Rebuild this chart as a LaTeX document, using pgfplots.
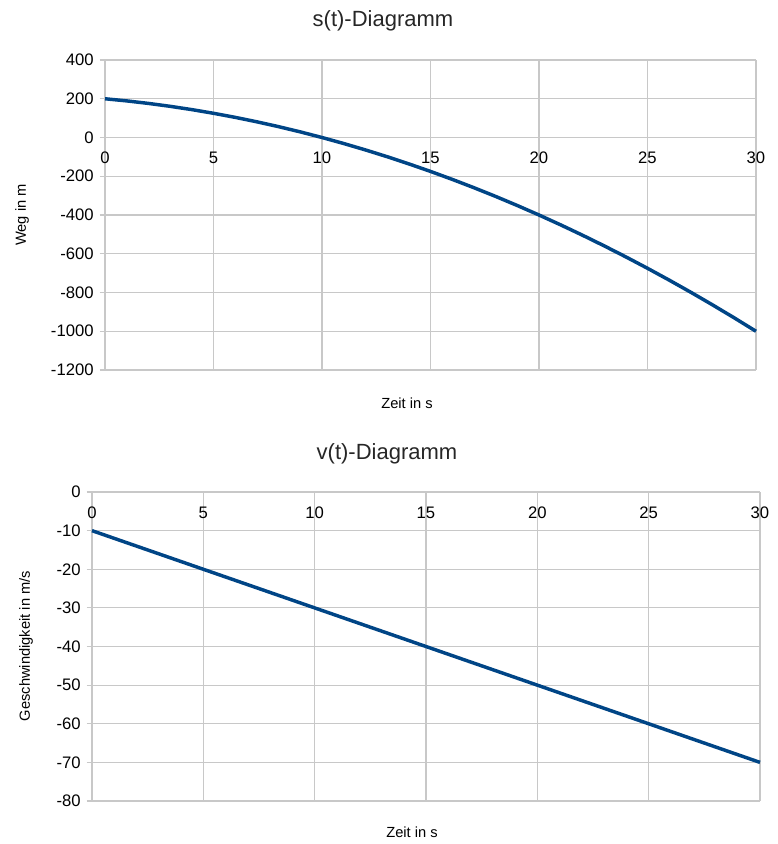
\documentclass[border=0pt]{standalone}
\usepackage{fontspec}
\setmainfont{Liberation Sans}
\usepackage{pgfplots}
\pgfplotsset{compat=1.18}
\definecolor{serie}{HTML}{004586}
\definecolor{gridc}{HTML}{C8C8C8}
\pgfplotsset{
  common/.style={
    scale only axis,
    axis lines=middle,
    axis line style={-, gridc, line width=1pt},
    grid=major,
    major grid style={gridc, line width=0.8pt},
    hide obscured x ticks=false,
    hide obscured y ticks=false,
    xmin=0, xmax=30,
    xtick={0,5,...,30},
    xtick style={draw=none},
    ytick style={gridc, line width=0.8pt},
    major tick length=4pt,
    tick align=outside,
    /pgf/number format/assume math mode=true,
    /pgf/number format/1000 sep={},
    tick label style={font=\fontsize{12.5}{14}\selectfont, text=black},
    xticklabel style={anchor=north, yshift=-3.5pt},
    yticklabel style={anchor=east, xshift=-1pt},
    clip=false,
  }
}
\begin{document}
\begin{tikzpicture}
\path[use as bounding box] (0,0) rectangle (583.5pt,-633pt);
% top chart
\begin{axis}[common,
  at={(78.75pt,-277.5pt)}, anchor=south west,
  width=488.25pt, height=232.5pt,
  ymin=-1200, ymax=400, ytick={-1200,-1000,...,400},
]
\addplot[serie, line width=2.6pt] coordinates {
(0,200) (1,189) (2,176) (3,161) (4,144) (5,125) (6,104) (7,81) (8,56) (9,29)
(10,0) (11,-31) (12,-64) (13,-99) (14,-136) (15,-175) (16,-216) (17,-259)
(18,-304) (19,-351) (20,-400) (21,-451) (22,-504) (23,-559) (24,-616)
(25,-675) (26,-736) (27,-799) (28,-864) (29,-931) (30,-1000)};
\end{axis}
% bottom chart
\begin{axis}[common,
  at={(69pt,-600.75pt)}, anchor=south west,
  width=501pt, height=231.75pt,
  ymin=-80, ymax=0, ytick={-80,-70,...,0},
]
\addplot[serie, line width=2.6pt] coordinates {
(0,-10) (5,-20) (10,-30) (15,-40) (20,-50) (25,-60) (30,-70)};
\end{axis}
\node[font=\fontsize{16.5}{19}\selectfont, text=black!85] at (287.25pt,-15.5pt) {s(t)-Diagramm};
\node[font=\fontsize{16.5}{19}\selectfont, text=black!85] at (290.25pt,-340.5pt) {v(t)-Diagramm};
\node[font=\fontsize{11}{13}\selectfont] at (305.25pt,-302.25pt) {Zeit in s};
\node[font=\fontsize{11}{13}\selectfont] at (309pt,-624pt) {Zeit in s};
\node[font=\fontsize{11}{13}\selectfont, rotate=90] at (16.5pt,-161.25pt) {Weg in m};
\node[font=\fontsize{11}{13}\selectfont, rotate=90] at (19.5pt,-484.5pt) {Geschwindigkeit in m/s};
\end{tikzpicture}
\end{document}
